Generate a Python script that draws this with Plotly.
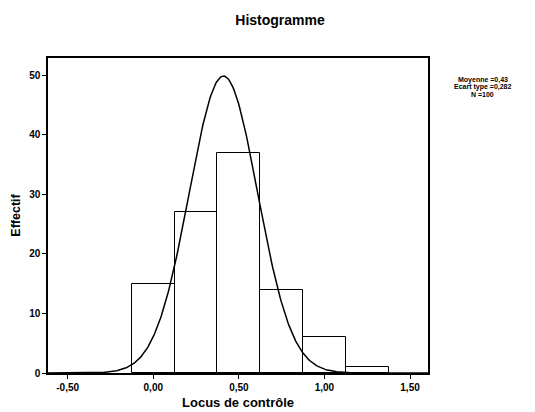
import numpy as np
import plotly.graph_objects as go

# Data
bin_centers = [0.0, 0.25, 0.5, 0.75, 1.0, 1.25]
counts = [15, 27, 37, 14, 6, 1]
bin_width = 0.25
n_total = 100
curve_mean = 0.41   # centre of the drawn normal curve
curve_sd = 0.20     # spread of the drawn normal curve
x_tick_vals = [-0.5, 0.0, 0.5, 1.0, 1.5]
x_tick_text = ["-0,50", "0,00", "0,50", "1,00", "1,50"]
y_tick_vals = [0, 10, 20, 30, 40, 50]
stats_text = ["Moyenne =0,43", "Ecart type =0,282", "N =100"]

x_range = [-0.615, 1.605]
y_range = [0, 52.9]

xs = np.linspace(x_range[0], x_range[1], 400)
ys = n_total * bin_width / (curve_sd * np.sqrt(2 * np.pi)) * np.exp(-0.5 * ((xs - curve_mean) / curve_sd) ** 2)

font = "Liberation Sans, Arial, sans-serif"

# the page body adds an 8px offset, so the figure is 8px smaller
W, H = 527, 404
PL, PT, PR, PB = 40, 50, 420, 365  # plot area in figure pixels
pw, ph = PR - PL, PB - PT

fig = go.Figure()
fig.add_trace(go.Bar(
    x=bin_centers, y=counts, width=bin_width,
    marker=dict(color="white", line=dict(color="black", width=1)),
    hoverinfo="x+y", showlegend=False,
))
fig.add_trace(go.Scatter(
    x=xs, y=ys, mode="lines", line=dict(color="black", width=1.5),
    showlegend=False, hoverinfo="skip",
))

annotations = []
for i, line in enumerate(stats_text):
    ypix = 72 + 7 * i  # figure pixels
    annotations.append(dict(
        text="<b>" + line + "</b>", xref="paper", yref="paper",
        x=(475 - PL) / pw, y=(PB - ypix) / ph, xanchor="center", yanchor="middle",
        showarrow=False, align="center",
        font=dict(family=font, size=7, color="black"),
    ))

fig.update_layout(
    width=W, height=H,
    margin=dict(l=PL, r=W - PR, t=PT, b=H - PB, autoexpand=False),
    paper_bgcolor="white", plot_bgcolor="white",
    title=dict(text="<b>Histogramme</b>", x=(272 - PL) / pw, xref="paper", xanchor="center",
               y=1 - 12 / H, yanchor="middle", yref="container", automargin=False,
               font=dict(family=font, size=14, color="black")),
    bargap=0,
    xaxis=dict(
        range=x_range, tickmode="array", tickvals=x_tick_vals, ticktext=x_tick_text,
        ticks="outside", ticklen=4, tickcolor="black", tickwidth=1,
        showline=True, linecolor="black", linewidth=1.5, mirror=True,
        showgrid=False, zeroline=False, automargin=False,
        tickfont=dict(family=font, size=10, color="black", weight="bold"),
        title=dict(text="<b>Locus de contrôle</b>", font=dict(family=font, size=13, color="black"),
                   standoff=6),
    ),
    yaxis=dict(
        range=y_range, tickmode="array", tickvals=y_tick_vals,
        ticks="outside", ticklen=4, tickcolor="black", tickwidth=1,
        showline=True, linecolor="black", linewidth=1.5, mirror=True,
        showgrid=False, zeroline=False, automargin=False,
        tickfont=dict(family=font, size=10, color="black", weight="bold"),
        title=dict(text="<b>Effectif</b>", font=dict(family=font, size=12.5, color="black"),
                   standoff=6),
    ),
    annotations=annotations,
)

fig.write_html("out.html")
